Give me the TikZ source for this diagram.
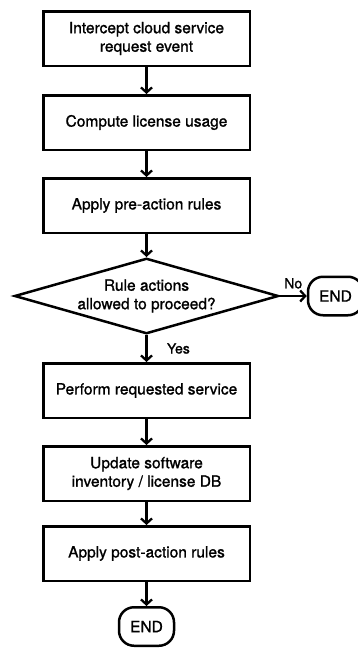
\documentclass[tikz,border=0pt]{standalone}
\usepackage{fontspec}
\newfontfamily\flowfont{TeX Gyre Heros}[FakeBold=1.2]
\usepackage{tikz}
\usetikzlibrary{positioning,shapes.geometric,arrows.meta}

\begin{document}
\begin{tikzpicture}[x=1pt,y=1pt,
  font=\flowfont\fontsize{15.5}{18.5}\selectfont,
  proc/.style={draw,line width=2.5pt,minimum width=206.5pt,minimum height=54.5pt,
    align=center,inner sep=2pt},
  decide/.style={draw,diamond,line width=2.5pt,aspect=3.45,inner sep=0pt,
    minimum width=264pt,minimum height=75.5pt,align=center},
  stopnode/.style={draw,line width=2.5pt,rounded corners=15pt,
    minimum width=55pt,minimum height=38.5pt},
  flow/.style={line width=2.3pt,-{Straight Barb[length=5pt,width=11pt]}},
  lbl/.style={font=\flowfont\fontsize{14}{16}\selectfont}]
  \useasboundingbox (0,0) rectangle (357,-648);
  % main column
  \node[proc] (intercept) at (146.5,-38.5) {Intercept cloud service\\request event};
  \node[proc,below=27pt of intercept] (usage) {Compute license usage};
  \node[proc,below=26pt of usage] (prerules) {Apply pre-action rules};
  \node[decide,below=23pt of prerules] (allowed) {Rule actions\\allowed to proceed?};
  \node[proc,below=27pt of allowed] (perform) {Perform requested service};
  \node[proc,below=26pt of perform] (update) {Update software\\inventory / license DB};
  \node[proc,below=23pt of update] (postrules) {Apply post-action rules};
  \node[stopnode,below=24pt of postrules] (finish) {END};
  % exit on the right
  \node[stopnode,right=27pt of allowed] (abort) {END};

  \draw[flow] (intercept) -- (usage);
  \draw[flow] (usage) -- (prerules);
  \draw[flow] (prerules) -- (allowed);
  \draw[flow] (allowed) -- (perform) node[midway,right=16pt,lbl] {Yes};
  \draw[flow] (allowed) -- (abort) node[midway,above=3pt,lbl] {No};
  \draw[flow] (perform) -- (update);
  \draw[flow] (update) -- (postrules);
  \draw[flow] (postrules) -- (finish);
\end{tikzpicture}
\end{document}
